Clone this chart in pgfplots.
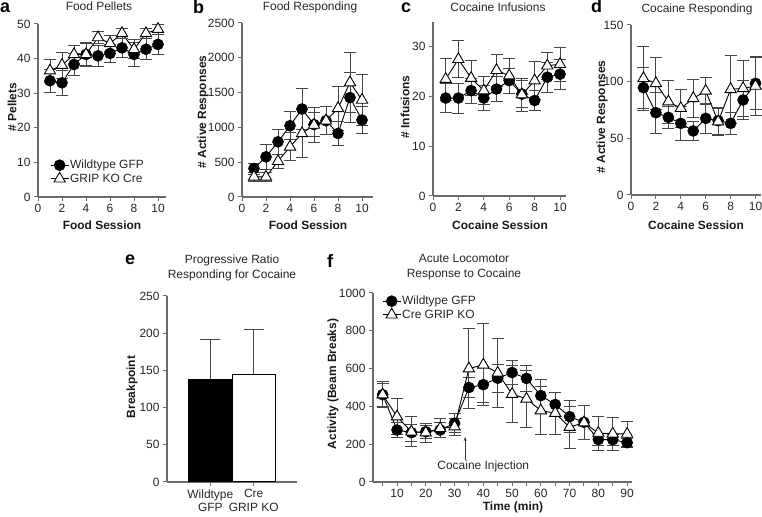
\documentclass[border=0pt]{standalone}
\usepackage{pgfplots}
\pgfplotsset{compat=1.18}
\usepackage{fontspec}
\setmainfont{Liberation Sans}
\usetikzlibrary{arrows.meta}
\newcommand\fs[1]{\fontsize{#1}{#1}\selectfont}
\definecolor{axgray}{gray}{0.42}
\definecolor{ebgray}{gray}{0.28}
\pgfplotsset{
 myax/.style={scale only axis, anchor=south west, axis lines=left,
   axis line style={-, line width=1.2bp, axgray},
   tick style={line width=1bp, axgray}, tick align=outside,
   major tick length=4bp, minor tick length=4bp,
   tick label style={font=\fs{12}, text=black!85},
   /pgf/number format/assume math mode=true, /pgf/number format/1000 sep={},
   clip=false,
   legend image code/.code={\draw[mark repeat=2, mark phase=2, ##1] plot coordinates {(0bp,0bp)(9bp,0bp)(18bp,0bp)};},
   legend style={draw=none, fill=none, inner sep=0pt, row sep=1bp,
     nodes={inner sep=1bp, font=\fs{12}, text=black!85}},
   legend cell align=left},
 wt/.style={black, line width=0.9bp, mark=*, mark size=5.5bp,
   mark options={solid, fill=black, line width=0.6bp},
   error bars/.cd, y dir=both, y explicit,
   error bar style={line width=0.9bp, ebgray},
   error mark options={rotate=90, mark size=6bp, line width=0.9bp, ebgray}},
 ko/.style={black, line width=0.9bp, mark=triangle*, mark size=6.5bp,
   mark options={solid, fill=white, line width=0.9bp},
   error bars/.cd, y dir=both, y explicit,
   error bar style={line width=0.9bp, ebgray},
   error mark options={rotate=90, mark size=6bp, line width=0.9bp, ebgray}},
}
\begin{document}
\begin{tikzpicture}[x=1bp, y=1bp]
\path[use as bounding box] (0,0) rectangle (762,517);

% ---------- a
\begin{axis}[myax, at={(38bp,320bp)}, width=128.4bp, height=173bp,
  xmin=0, xmax=10.7, ymin=0, ymax=50, xtick={0,2,...,10}, ytick={0,10,...,50},
  legend style={at={(axis cs:1,11)}, anchor=north west}]
\addplot[wt] coordinates {(1,33.6)+-(0,3.3) (2,33.0)+-(0,3.7) (3,38.3)+-(0,3.3) (4,41.2)+-(0,3.2) (5,40.8)+-(0,3.0) (6,41.5)+-(0,2.5) (7,43.1)+-(0,2.8) (8,41.2)+-(0,3.5) (9,42.7)+-(0,3.0) (10,44.1)+-(0,3.0)};
\addlegendentry{Wildtype GFP}
\addplot[ko] coordinates {(1,36.5)+-(0,3.3) (2,38.1)+-(0,3.7) (3,41.2)+-(0,2.5) (4,41.2)+-(0,3.4) (5,46.1)+-(0,1.8) (6,44.4)+-(0,2.4) (7,47.3)+-(0,1.5) (8,42.7)+-(0,2.7) (9,47.3)+-(0,1.5) (10,48.5)+-(0,1.5)};
\addlegendentry{GRIP KO Cre}
\end{axis}

% ---------- b
\begin{axis}[myax, at={(242bp,320bp)}, width=130.8bp, height=174bp,
  xmin=0, xmax=10.9, ymin=0, ymax=2500, xtick={0,2,...,10}, ytick={0,500,...,2500}]
\addplot[wt] coordinates {(1,409)+-(0,80) (2,577)+-(0,180) (3,793)+-(0,180) (4,1024)+-(0,200) (5,1264)+-(0,300) (6,1040)+-(0,170) (7,1096)+-(0,200) (8,913)+-(0,170) (9,1428)+-(0,360) (10,1106)+-(0,200)};
\addplot[ko] coordinates {(1,288)+-(0,60) (2,288)+-(0,60) (3,514)+-(0,100) (4,721)+-(0,200) (5,913)+-(0,340) (6,1034)+-(0,250) (7,1096)+-(0,200) (8,1274)+-(0,320) (9,1644)+-(0,430) (10,1394)+-(0,360)};
\end{axis}

% ---------- c
\begin{axis}[myax, at={(433bp,321bp)}, width=133.35bp, height=174bp,
  xmin=0, xmax=10.5, ymin=0, ymax=35, xtick={0,2,...,10}, ytick={0,10,20,30}]
\addplot[wt] coordinates {(1,19.7)+-(0,2.9) (2,19.7)+-(0,3.0) (3,21.2)+-(0,2.5) (4,19.7)+-(0,2.5) (5,21.5)+-(0,2.5) (6,23.2)+-(0,2.5) (7,20.5)+-(0,2.7) (8,19.2)+-(0,2.0) (9,23.9)+-(0,3.0) (10,24.5)+-(0,3.0)};
\addplot[ko] coordinates {(1,23.5)+-(0,4.2) (2,27.5)+-(0,3.7) (3,23.7)+-(0,3.5) (4,21.2)+-(0,2.8) (5,25.3)+-(0,3.2) (6,24.2)+-(0,3.5) (7,20.4)+-(0,3.3) (8,23.2)+-(0,3.8) (9,26.2)+-(0,2.7) (10,26.5)+-(0,3.4)};
\end{axis}

% ---------- d
\begin{axis}[myax, at={(631bp,322bp)}, width=130.1bp, height=170bp,
  xmin=0, xmax=10.45, ymin=0, ymax=150, xtick={0,2,...,10}, ytick={0,50,100,150}]
\addplot[wt] coordinates {(1,94.7)+-(0,18) (2,72.6)+-(0,18) (3,68.5)+-(0,10) (4,63.2)+-(0,15) (5,56.5)+-(0,8) (6,67.6)+-(0,13) (7,65.5)+-(0,12) (8,63.2)+-(0,10) (9,83.8)+-(0,17) (10,98.5)+-(0,23)};
\addplot[ko] coordinates {(1,102.9)+-(0,28) (2,98.5)+-(0,23) (3,82.4)+-(0,19) (4,76.5)+-(0,17) (5,85.3)+-(0,17) (6,91.8)+-(0,12) (7,64.7)+-(0,12) (8,93.2)+-(0,30) (9,94.1)+-(0,25) (10,96.2)+-(0,26)};
\end{axis}

% ---------- e
\begin{axis}[myax, at={(167bp,35bp)}, width=130bp, height=186bp,
  xmin=0, xmax=3, ymin=0, ymax=250, xtick={1,2}, ytick={0,50,...,250},
  xticklabels={{Wildtype\\GFP},{Cre\\GRIP KO}},
  xticklabel style={align=center, font=\fontsize{12}{13.5}\selectfont}]
\addplot[ybar, bar width=43bp, bar shift=0pt, fill=black, draw=black, line width=1bp,
  error bars/.cd, y dir=plus, y explicit, error bar style={line width=1bp, ebgray},
  error mark options={rotate=90, mark size=10bp, line width=1bp, ebgray}]
  coordinates {(1,138)+-(0,53)};
\addplot[ybar, bar width=43bp, bar shift=0pt, fill=white, draw=black, line width=1bp,
  error bars/.cd, y dir=plus, y explicit, error bar style={line width=1bp, ebgray},
  error mark options={rotate=90, mark size=10bp, line width=1bp, ebgray}]
  coordinates {(2,145)+-(0,60)};
\end{axis}

% ---------- f
\begin{axis}[myax, at={(373bp,35bp)}, width=259bp, height=189bp,
  xmin=1.65, xmax=91.7, ymin=0, ymax=1000, xtick={10,20,...,90}, minor xtick={5,15,...,85},
  ytick={0,200,...,1000},
  legend style={at={(axis cs:4.8,990)}, anchor=north west}]
\addplot[wt] coordinates {(5,462)+-(0,70) (10,275)+-(0,40) (15,261)+-(0,45) (20,266)+-(0,35) (25,275)+-(0,40) (30,311)+-(0,50) (35,500)+-(0,55) (40,515)+-(0,95) (45,549)+-(0,75) (50,579)+-(0,65) (55,548)+-(0,70) (60,457)+-(0,88) (65,410)+-(0,65) (70,346)+-(0,85) (75,316)+-(0,90) (80,225)+-(0,30) (85,224)+-(0,30) (90,208)+-(0,25)};
\addlegendentry{Wildtype GFP}
\addplot[ko] coordinates {(5,462)+-(0,60) (10,346)+-(0,97) (15,266)+-(0,80) (20,261)+-(0,50) (25,284)+-(0,50) (30,293)+-(0,45) (35,600)+-(0,210) (40,620)+-(0,217) (45,577)+-(0,185) (50,465)+-(0,150) (55,440)+-(0,150) (60,378)+-(0,125) (65,364)+-(0,110) (70,290)+-(0,110) (75,314)+-(0,90) (80,259)+-(0,90) (85,255)+-(0,88) (90,254)+-(0,65)};
\addlegendentry{Cre GRIP KO}
\draw[-{Stealth[length=4bp,width=3bp]}, line width=0.8bp, black!80] (axis cs:33.7,116) -- (axis cs:33.7,238);
\node[font=\fs{12}, text=black!85] at (axis cs:40,80) {Cocaine Injection};
\end{axis}

% ---------- panel letters
\begin{scope}[every node/.style={font=\fs{18}\bfseries, anchor=base west, inner sep=0pt}]
\node at (0,504) {a};
\node at (193,503) {b};
\node at (401,504) {c};
\node at (591,504) {d};
\node at (125,252) {e};
\node at (327,249) {f};
\end{scope}

% ---------- titles
\begin{scope}[every node/.style={font=\fs{12}, text=black!85, anchor=base, inner sep=0pt}]
\node at (99,506) {Food Pellets};
\node at (310,506) {Food Responding};
\node at (498,505) {Cocaine Infusions};
\node at (697,504) {Cocaine Responding};
\node at (232,253) {Progressive Ratio};
\node at (232,238) {Responding for Cocaine};
\node at (464,254) {Acute Locomotor};
\node at (464,239) {Response to Cocaine};
\end{scope}

% ---------- axis labels
\begin{scope}[every node/.style={font=\fs{12}\bfseries, text=black!90, inner sep=0pt}]
\node[rotate=90] at (12,410) {\# Pellets};
\node[rotate=90] at (203,405) {\# Active Responses};
\node[rotate=90] at (405,410) {\# Infusions};
\node[rotate=90] at (602,400) {\# Active Responses};
\node[rotate=90] at (132,130) {Breakpoint};
\node[rotate=90] at (333,133) {Activity (Beam Breaks)};
\node at (102,292) {Food Session};
\node at (308,292) {Food Session};
\node at (500,292) {Cocaine Session};
\node at (696,292) {Cocaine Session};
\node at (513,10) {Time (min)};
\end{scope}
\end{tikzpicture}
\end{document}
